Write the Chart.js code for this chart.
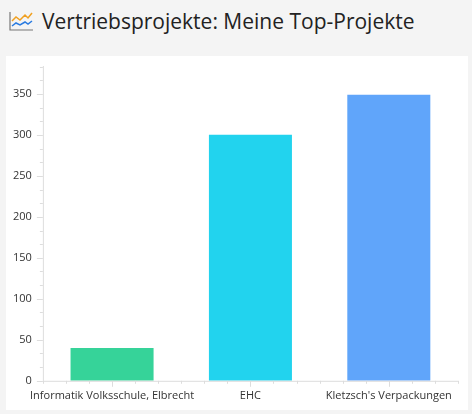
<!DOCTYPE html><html><head><meta charset="utf-8">
<script src="https://cdn.jsdelivr.net/npm/chart.js@4"></script>
<style>
body{margin:0;background:#f4f4f4;width:472px;height:414px;overflow:hidden;font-family:"Open Sans","Noto Sans",sans-serif}
#t{position:absolute;left:8px;top:6px;height:30px;display:flex;align-items:center;font-size:21px;color:#222}
#t svg{margin-right:8px}
#p{position:absolute;left:6px;top:56px;width:462px;height:354px;background:#fff}
</style></head><body>
<div id="t"><svg width="26" height="22" viewBox="0 0 26 22"><polyline points="2,2 2,20 25,20" fill="none" stroke="#777" stroke-width="1.2"/><polyline points="4,11 8,7 12,10 17,5 20,8 24,3" fill="none" stroke="#f0a020" stroke-width="1.5"/><polyline points="4,16 8,13 12,15 17,12 20,14 24,11" fill="none" stroke="#2a7be0" stroke-width="1.5"/></svg>Vertriebsprojekte: Meine Top-Projekte</div>
<div id="p"><canvas id="c"></canvas></div>
<script>
const categories=["Informatik Volksschule, Elbrecht","EHC","Kletzsch's Verpackungen"];
const values=[40,300,349];
const colors=["#36d399","#22d3ee","#60a5fa"];
const minorTicks={id:'mt',afterDraw(ch){const c=ch.ctx,y=ch.scales.y,x=ch.scales.x;c.save();c.strokeStyle='#ddd';c.lineWidth=1;c.beginPath();
for(let v=0;v<=384;v+=50/3){const py=Math.round(y.getPixelForValue(v))+0.5;const major=Math.abs(v/50-Math.round(v/50))<1e-6;c.moveTo(x.left-(major?6:3),py);c.lineTo(x.left,py);}
c.moveTo(x.left+0.5,y.top);c.lineTo(x.left+0.5,y.bottom);
const w=(x.right-x.left)/3;for(let i=0;i<=18;i++){const px=Math.round(x.left+i*w/6)+0.5;c.moveTo(px,y.bottom);c.lineTo(px,y.bottom+(i%6==3?6:3));}
c.moveTo(x.left,y.bottom+0.5);c.lineTo(x.right,y.bottom+0.5);c.stroke();c.restore();}};
new Chart(document.getElementById('c'),{type:'bar',data:{labels:categories,datasets:[{data:values,backgroundColor:colors,categoryPercentage:0.6,barPercentage:1}]},
options:{responsive:true,maintainAspectRatio:false,animation:false,layout:{padding:{top:10,right:10,left:4,bottom:8}},plugins:{legend:{display:false},tooltip:{enabled:false}},
scales:{y:{min:0,max:384,afterBuildTicks(s){s.ticks=[0,50,100,150,200,250,300,350].map(v=>({value:v}));},grid:{display:false},border:{display:false},ticks:{color:'#333',font:{size:11,family:"Open Sans"},padding:3}},
x:{grid:{display:false},border:{display:false},ticks:{color:'#333',font:{size:11,family:"Open Sans"},maxRotation:0,autoSkip:false,padding:0}}}},plugins:[minorTicks]});
</script></body></html>
